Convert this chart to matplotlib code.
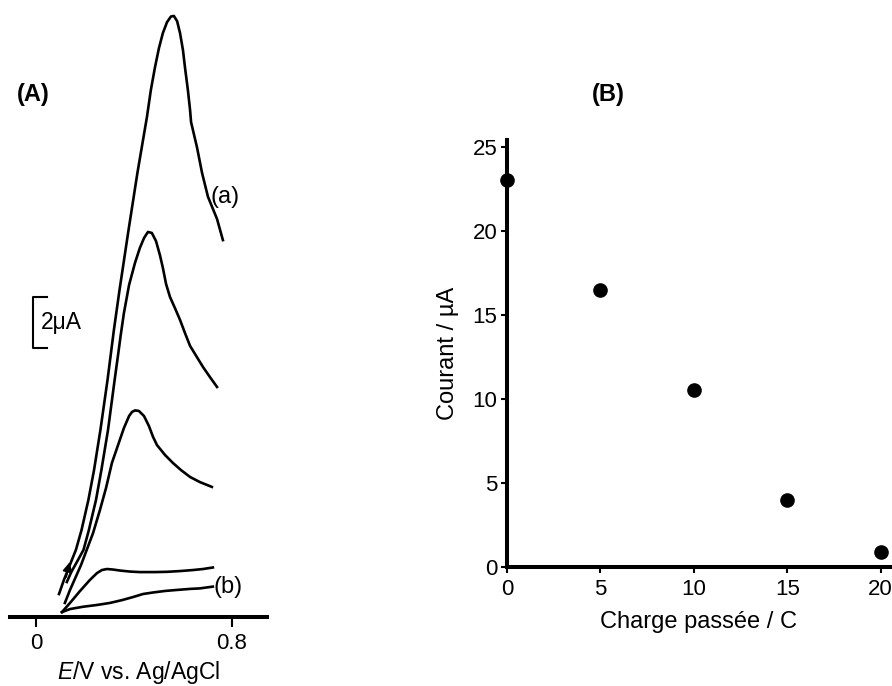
import matplotlib
matplotlib.use("Agg")
import matplotlib.pyplot as plt

plt.rcParams['font.family'] = ['Liberation Sans', 'DejaVu Sans']
plt.rcParams['mathtext.fontset'] = 'custom'
plt.rcParams['mathtext.it'] = 'Liberation Sans:italic'
plt.rcParams['mathtext.rm'] = 'Liberation Sans'

# (A) voltammograms: potential (V vs Ag/AgCl), current (uA)
E_a = [0.094, 0.114, 0.135, 0.163, 0.186, 0.214, 0.237, 0.263, 0.292, 0.318, 0.341, 0.376,
       0.414, 0.453, 0.469, 0.486, 0.502, 0.518, 0.535, 0.551, 0.563, 0.576, 0.588, 0.600,
       0.608, 0.620, 0.629, 0.633, 0.657, 0.678, 0.702, 0.739, 0.763]
I_a = [0.89, 1.44, 1.95, 2.62, 3.40, 4.58, 5.75, 7.32, 9.28, 11.24, 12.81, 15.05,
       17.40, 19.60, 20.66, 21.56, 22.30, 22.89, 23.32, 23.54, 23.56, 23.36, 22.89, 22.22,
       21.56, 20.66, 19.87, 19.40, 18.42, 17.40, 16.47, 15.60, 14.77]

E_2 = [0.126, 0.144, 0.169, 0.194, 0.216, 0.245, 0.267, 0.294, 0.321, 0.335, 0.346, 0.359,
       0.380, 0.404, 0.424, 0.441, 0.457, 0.473, 0.490, 0.506, 0.518, 0.531, 0.547, 0.567,
       0.588, 0.608, 0.629, 0.657, 0.682, 0.710, 0.739]
I_2 = [1.36, 1.75, 2.18, 2.62, 3.40, 4.58, 5.75, 7.32, 9.28, 10.26, 11.05, 11.91,
       13.01, 13.87, 14.46, 14.85, 15.09, 15.05, 14.73, 14.18, 13.68, 13.05, 12.54, 12.11,
       11.64, 11.13, 10.62, 10.18, 9.79, 9.40, 9.01]

E_3 = [0.118, 0.139, 0.184, 0.233, 0.261, 0.286, 0.310, 0.335, 0.359, 0.380, 0.392, 0.404,
       0.420, 0.441, 0.461, 0.478, 0.494, 0.527, 0.559, 0.592, 0.629, 0.669, 0.718]
I_3 = [0.54, 1.05, 2.03, 3.28, 4.18, 5.05, 6.03, 6.73, 7.40, 7.87, 8.03, 8.09,
       8.07, 7.87, 7.48, 7.05, 6.73, 6.34, 6.03, 5.75, 5.48, 5.28, 5.09]

E_4 = [0.106, 0.139, 0.180, 0.220, 0.249, 0.269, 0.290, 0.314, 0.343, 0.384, 0.424, 0.486,
       0.535, 0.588, 0.641, 0.682, 0.722]
I_4 = [0.18, 0.54, 1.01, 1.44, 1.71, 1.83, 1.87, 1.85, 1.81, 1.77, 1.75, 1.75,
       1.76, 1.79, 1.83, 1.87, 1.93]

E_b = [0.106, 0.139, 0.192, 0.249, 0.302, 0.351, 0.396, 0.437, 0.478, 0.527, 0.576, 0.629,
       0.669, 0.722]
I_b = [0.18, 0.30, 0.39, 0.46, 0.54, 0.65, 0.77, 0.89, 0.95, 1.01, 1.05, 1.09,
       1.11, 1.18]

# (B) peak current vs charge passed
charge = [0, 5, 10, 15, 20]
courant = [23.0, 16.5, 10.5, 4.0, 0.9]

fig = plt.figure(figsize=(8.92, 6.86), dpi=100)

# ---- panel A ----
ax1 = fig.add_axes([10 / 892, 1 - 616.7 / 686, 257 / 892, 611.7 / 686])
for E, I in [(E_a, I_a), (E_2, I_2), (E_3, I_3), (E_4, I_4), (E_b, I_b)]:
    ax1.plot(E, I, color='k', lw=1.9, solid_joinstyle='round')
ax1.set_xlim(-0.106, 0.943)
ax1.set_ylim(0, 23.99)
for s in ['left', 'right', 'top']:
    ax1.spines[s].set_visible(False)
ax1.spines['bottom'].set_linewidth(2.9)
ax1.set_yticks([])
ax1.set_xticks([0, 0.8])
ax1.set_xticklabels(['0', '0.8'])
ax1.tick_params(axis='x', direction='out', length=7, width=1.5, pad=5, labelsize=16)
ax1.set_xlabel(r'$\mathit{E}$/V vs. Ag/AgCl', fontsize=16.5, labelpad=3)

# sweep direction arrow
ax1.annotate('', xy=(0.141, 2.25), xytext=(0.120, 1.45),
             arrowprops=dict(arrowstyle='-|>', color='k', lw=1.3, mutation_scale=14))

# curve labels
ax1.text(0.714, 16.46, '(a)', fontsize=17, ha='left', va='center')
ax1.text(0.725, 1.16, '(b)', fontsize=17, ha='left', va='center')

# 2 uA scale bar
bar_x, bar_y0, bar_h = -0.012, 10.54, 2.0
ax1.plot([0.045, bar_x, bar_x, 0.045], [bar_y0, bar_y0, bar_y0 + bar_h, bar_y0 + bar_h],
         color='k', lw=1.5, clip_on=False)
ax1.text(0.022, bar_y0 + bar_h / 2, '2\u03bcA', fontsize=16.5, ha='left', va='center')

fig.text(17 / 892, 1 - 94 / 686, '(A)', fontsize=17, fontweight='bold', ha='left', va='center')

# ---- panel B ----
ax2 = fig.add_axes([507 / 892, 1 - 566.7 / 686, 383 / 892, 426.7 / 686])
ax2.plot(charge, courant, 'o', color='k', ms=9.5, clip_on=False, zorder=5)
ax2.set_xlim(0, 20.5)
ax2.set_ylim(0, 25.4)
ax2.spines['right'].set_visible(False)
ax2.spines['top'].set_visible(False)
ax2.spines['left'].set_linewidth(2.9)
ax2.spines['bottom'].set_linewidth(2.9)
ax2.set_xticks([0, 5, 10, 15, 20])
ax2.set_yticks([0, 5, 10, 15, 20, 25])
ax2.tick_params(axis='both', direction='out', length=4, width=1.5, labelsize=16)
ax2.tick_params(axis='x', pad=5)
ax2.tick_params(axis='y', pad=3)
ax2.set_xlabel('Charge passée / C', fontsize=17, labelpad=8)
ax2.set_ylabel('Courant / \u00b5A', fontsize=17, labelpad=10)

fig.text(592 / 892, 1 - 94 / 686, '(B)', fontsize=17, fontweight='bold', ha='left', va='center')

fig.savefig('out.png', dpi=100)
